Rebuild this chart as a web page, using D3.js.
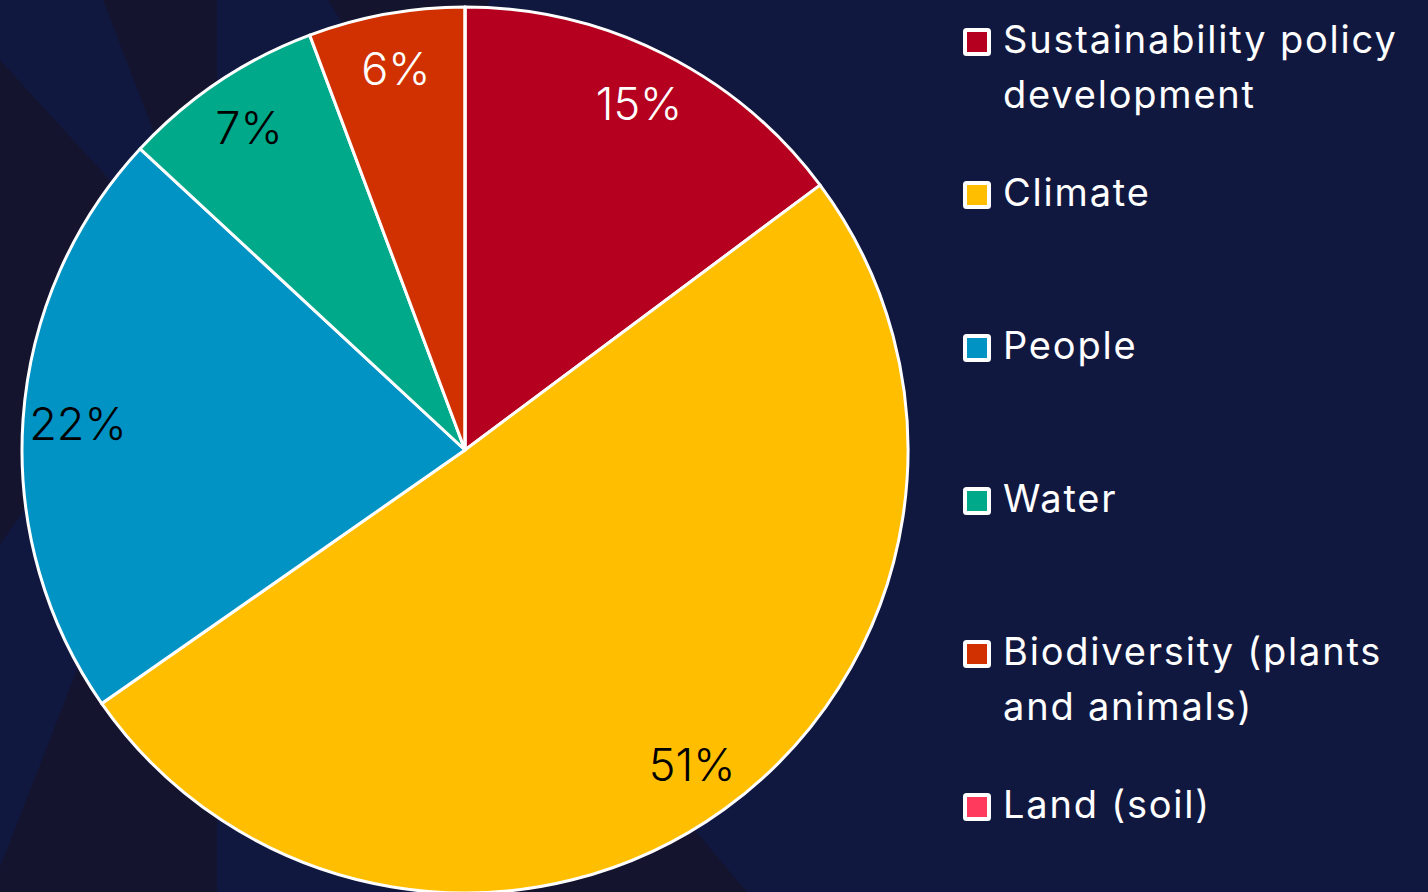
<!DOCTYPE html>
<html>
<head>
<meta charset="utf-8">
<script src="https://cdn.jsdelivr.net/npm/d3@7"></script>
<style>
  body { margin: 0; background: #111840; }
  svg { display: block; }
</style>
</head>
<body>
<div id="chart"></div>
<script>
// data
const categories = [
  "Sustainability policy development",
  "Climate",
  "People",
  "Water",
  "Biodiversity (plants and animals)",
  "Land (soil)"
];
const legendLines = [
  ["Sustainability policy", "development"],
  ["Climate"],
  ["People"],
  ["Water"],
  ["Biodiversity (plants", "and animals)"],
  ["Land (soil)"]
];
const shares = [14.8, 50.5, 21.6, 7.4, 5.7, 0];
const colors = ["#b5001f", "#ffbf00", "#0093c4", "#00a98a", "#d13100", "#ff3a5c"];
const labelColors = ["#ffffff", "#000000", "#000000", "#000000", "#ffffff", "#ffffff"];

const width = 1428;
const height = 892;
const cx = 465, cy = 450, radius = 443;
const font = "Inter, 'Noto Sans', sans-serif";

const svg = d3.select("#chart")
  .append("svg")
  .attr("width", width)
  .attr("height", height);

// background: navy with darker shards
svg.append("rect").attr("width", width).attr("height", height).attr("fill", "#111840");

const dark = "#14142f";
const navy = "#111840";
svg.append("rect").attr("x", 0).attr("y", 0).attr("width", 217).attr("height", height).attr("fill", dark);
const shards = [
  { fill: navy, pts: [[0, 0], [103, 0], [217, 297], [0, 60]] },
  { fill: navy, pts: [[0, 545], [298, 104], [0, 867]] },
  { fill: dark, pts: [[328, 0], [490, 0], [420, 150]] },
  { fill: dark, pts: [[500, 892], [560, 670], [747, 892]] }
];
svg.selectAll("polygon.shard")
  .data(shards)
  .join("polygon")
  .attr("class", "shard")
  .attr("points", d => d.pts.map(p => p.join(",")).join(" "))
  .attr("fill", d => d.fill);

// pie
const pie = d3.pie().sort(null).value(d => d.value);
const rows = categories.map((c, i) => ({ name: c, value: shares[i], i }));
const arcs = pie(rows);

const arc = d3.arc().innerRadius(0).outerRadius(radius);
const labelArc = d3.arc().innerRadius(388).outerRadius(388);

const g = svg.append("g").attr("transform", `translate(${cx},${cy})`);

g.selectAll("path")
  .data(arcs)
  .join("path")
  .attr("d", arc)
  .attr("fill", d => colors[d.data.i])
  .attr("stroke", "#ffffff")
  .attr("stroke-width", 3)
  .attr("stroke-linejoin", "round");

g.selectAll("text.pct")
  .data(arcs.filter(d => d.data.value > 0))
  .join("text")
  .attr("class", "pct")
  .attr("transform", d => `translate(${labelArc.centroid(d)})`)
  .attr("text-anchor", "middle")
  .attr("dominant-baseline", "central")
  .attr("font-family", font)
  .attr("font-weight", 300)
  .attr("font-size", 45)
  .attr("fill", d => labelColors[d.data.i])
  .text(d => Math.round(d.data.value) + "%");

// legend
const legend = svg.append("g").attr("transform", "translate(977,42)");
const item = legend.selectAll("g")
  .data(categories)
  .join("g")
  .attr("transform", (d, i) => `translate(0,${i * 153})`);

item.append("rect")
  .attr("x", -12)
  .attr("y", -12)
  .attr("width", 24)
  .attr("height", 24)
  .attr("rx", 1.5)
  .attr("fill", (d, i) => colors[i])
  .attr("stroke", "#ffffff")
  .attr("stroke-width", 4);

item.append("text")
  .attr("x", 26)
  .attr("font-family", font)
  .attr("font-size", 38)
  .attr("letter-spacing", 1.8)
  .attr("fill", "#ffffff")
  .selectAll("tspan")
  .data((d, i) => legendLines[i])
  .join("tspan")
  .attr("x", 26)
  .attr("y", (d, j) => 11 + j * 55)
  .text(d => d);
</script>
</body>
</html>
